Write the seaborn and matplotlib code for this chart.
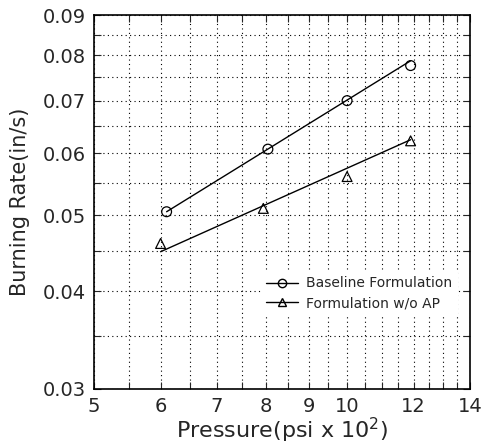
import numpy as np
import pandas as pd
import seaborn as sns
import matplotlib.pyplot as plt
from matplotlib.lines import Line2D
from matplotlib.ticker import FixedLocator, NullFormatter

# measured points
pressure_base = [6.1, 8.05, 10.0, 11.9]
rate_base = [0.0505, 0.0607, 0.0700, 0.0776]
pressure_noap = [6.0, 7.95, 10.0, 11.9]
rate_noap = [0.0460, 0.0510, 0.0560, 0.0622]

# fitted lines (end points)
fit_base_x = [6.1, 11.9]
fit_base_y = [0.0505, 0.0787]
fit_noap_x = [6.0, 11.9]
fit_noap_y = [0.0449, 0.0624]

xticks = [5, 6, 7, 8, 9, 10, 12, 14]
yticks = [0.03, 0.04, 0.05, 0.06, 0.07, 0.08, 0.09]

sns.set_style("ticks")
plt.rcParams['font.family'] = ['DejaVu Sans']

fig = plt.figure(figsize=(4.82, 4.45), dpi=100)
ax = fig.add_axes([0.195, 0.126, 0.780, 0.840])

ax.set_xscale('log')
ax.set_yscale('log')
ax.set_xlim(5, 14)
ax.set_ylim(0.03, 0.09)

sns.lineplot(x=fit_base_x, y=fit_base_y, ax=ax, color='black', lw=1.0)
sns.lineplot(x=fit_noap_x, y=fit_noap_y, ax=ax, color='black', lw=1.0)
sns.scatterplot(x=pressure_base, y=rate_base, ax=ax, marker='o', s=50,
                facecolor='none', edgecolor='black', linewidth=0.9, zorder=3)
sns.scatterplot(x=pressure_noap, y=rate_noap, ax=ax, marker='^', s=50,
                facecolor='none', edgecolor='black', linewidth=0.9, zorder=3)

xgrid = np.arange(5.0, 14.01, 0.5)
ygrid = np.arange(0.030, 0.0901, 0.005)
ax.xaxis.set_major_locator(FixedLocator(xticks))
ax.xaxis.set_minor_locator(FixedLocator(xgrid))
ax.yaxis.set_major_locator(FixedLocator(yticks))
ax.yaxis.set_minor_locator(FixedLocator(ygrid))
ax.set_xticklabels([str(t) for t in xticks])
ax.set_yticklabels([f"{t:.2f}" for t in yticks])
ax.xaxis.set_minor_formatter(NullFormatter())
ax.yaxis.set_minor_formatter(NullFormatter())

ax.grid(True, which='both', linestyle=(0, (1, 3)), color='black', lw=0.8)
ax.tick_params(which='both', direction='in', top=True, right=True,
               length=5, width=0.8, labelsize=14, pad=6)

for sp in ax.spines.values():
    sp.set_linewidth(1.2)
    sp.set_color('black')

ax.set_xlabel("Pressure(psi x 10$^2$)", fontsize=16, labelpad=0)
ax.set_ylabel("Burning Rate(in/s)", fontsize=15, labelpad=9)

handles = [
    Line2D([], [], color='black', lw=1.0, marker='o', mfc='none', mec='black', ms=6),
    Line2D([], [], color='black', lw=1.0, marker='^', mfc='none', mec='black', ms=6),
]
leg = ax.legend(handles, ["Baseline Formulation", "Formulation w/o AP"],
                loc='lower right', bbox_to_anchor=(0.965, 0.20), fontsize=10,
                frameon=True, fancybox=False, edgecolor='white',
                handlelength=2.3, handletextpad=0.6,
                borderpad=0.3, labelspacing=0.4, borderaxespad=0)
leg.get_frame().set_facecolor('white')
leg.get_frame().set_alpha(1)

fig.savefig("out.png", dpi=100)
